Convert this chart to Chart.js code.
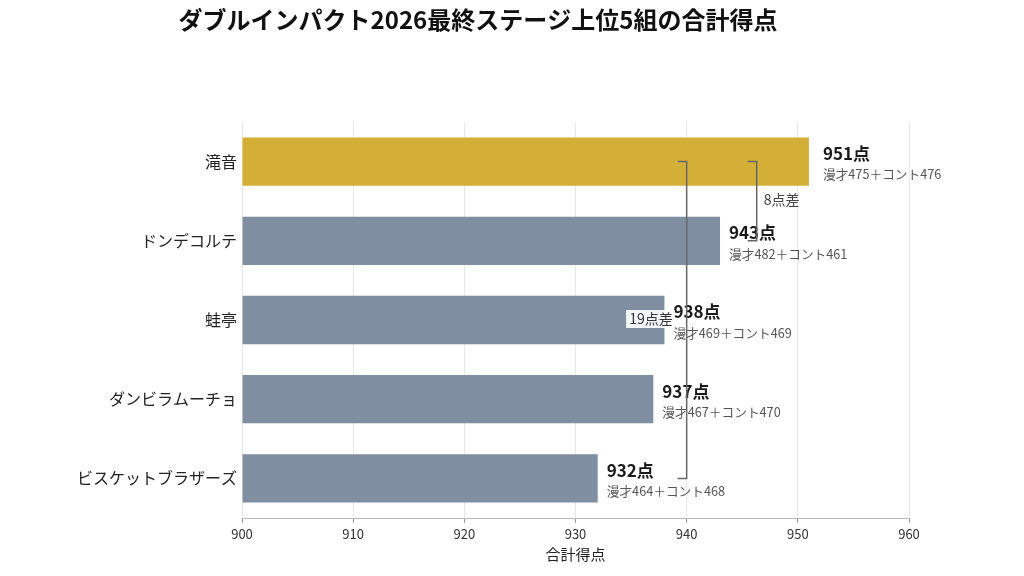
<!DOCTYPE html>
<html>
<head>
<meta charset="utf-8">
<script src="https://cdn.jsdelivr.net/npm/chart.js@4.4.1/dist/chart.umd.min.js"></script>
<style>
  html, body { margin: 0; padding: 0; background: #fff; }
  canvas { display: block; }
</style>
</head>
<body>
<canvas id="chart" width="1024" height="576"></canvas>
<script>
const teams = ['滝音', 'ドンデコルテ', '蛙亭', 'ダンビラムーチョ', 'ビスケットブラザーズ'];
const totals = [951, 943, 938, 937, 932];
const manzai = [475, 482, 469, 467, 464];
const conte = [476, 461, 469, 470, 468];
const xTicks = [900, 910, 920, 930, 940, 950, 960];

// difference brackets
const gapText = ['8点差', '19点差'];
const gapFrom = [0, 0];
const gapTo = [1, 4];
const gapAt = [946.3, 940];

const gold = '#d4af37';
const slate = '#7f8fa1';
const FONT = "'Noto Sans CJK JP', 'Noto Sans', sans-serif";

Chart.defaults.font.family = FONT;

const titlePlugin = {
  id: 'topTitle',
  afterDraw(chart) {
    const ctx = chart.ctx;
    ctx.save();
    ctx.font = `bold 24px ${FONT}`;
    ctx.fillStyle = '#111';
    ctx.textAlign = 'center';
    ctx.textBaseline = 'middle';
    ctx.fillText('ダブルインパクト2026最終ステージ上位5組の合計得点', 478, 20);
    ctx.restore();
  }
};

const annotations = {
  id: 'annotations',
  afterDatasetsDraw(chart) {
    const ctx = chart.ctx;
    const x = chart.scales.x;
    const y = chart.scales.y;
    ctx.save();

    // value labels
    totals.forEach((v, i) => {
      const px = x.getPixelForValue(v) + (i === 0 ? 14 : 9);
      const py = y.getPixelForValue(i);
      ctx.textAlign = 'left';
      ctx.textBaseline = 'middle';
      ctx.font = `bold 17px ${FONT}`;
      ctx.fillStyle = '#1a1a1a';
      ctx.fillText(v + '点', px, py - 8);
      ctx.font = `12.7px ${FONT}`;
      ctx.fillStyle = '#555';
      ctx.fillText('漫才' + manzai[i] + '＋コント' + conte[i], px, py + 13);
    });

    // brackets
    gapText.forEach((t, k) => {
      const lx = x.getPixelForValue(gapAt[k]);
      const y1 = y.getPixelForValue(gapFrom[k]);
      const y2 = y.getPixelForValue(gapTo[k]);
      ctx.strokeStyle = '#666';
      ctx.lineWidth = 1.5;
      ctx.beginPath();
      ctx.moveTo(lx - 9, y1);
      ctx.lineTo(lx, y1);
      ctx.lineTo(lx, y2);
      ctx.lineTo(lx - 9, y2);
      ctx.stroke();

      const my = (y1 + y2) / 2;
      ctx.font = `14px ${FONT}`;
      ctx.textBaseline = 'middle';
      if (k === 0) {
        ctx.textAlign = 'left';
        ctx.fillStyle = '#444';
        ctx.fillText(t, lx + 7, my - 2);
      } else {
        const w = ctx.measureText(t).width;
        const right = lx - 14;
        ctx.fillStyle = 'rgba(255,255,255,0.92)';
        ctx.fillRect(right - w - 3, my - 10, w + 5, 18);
        ctx.textAlign = 'right';
        ctx.fillStyle = '#333';
        ctx.fillText(t, right, my - 1);
      }
    });
    ctx.restore();
  }
};

new Chart(document.getElementById('chart'), {
  type: 'bar',
  data: {
    labels: teams,
    datasets: [{
      data: totals,
      base: 900,
      backgroundColor: totals.map((v, i) => (i === 0 ? gold : slate)),
      barPercentage: 0.61,
      categoryPercentage: 1
    }]
  },
  options: {
    indexAxis: 'y',
    responsive: false,
    animation: false,
    devicePixelRatio: 1,
    layout: { padding: { top: 122, right: 115, left: 0, bottom: 0 } },
    plugins: {
      legend: { display: false },
      tooltip: { enabled: false }
    },
    scales: {
      x: {
        min: 900,
        max: 960,
        afterFit(s) { s.height = 58; },
        afterBuildTicks(s) { s.ticks = xTicks.map(v => ({ value: v })); },
        ticks: { font: { size: 13 }, color: '#333', padding: 3 },
        grid: { color: '#e8e8e8', tickColor: '#999', tickLength: 5 },
        border: { color: '#bbb' },
        title: {
          display: true,
          text: '合計得点',
          font: { size: 15 },
          color: '#222',
          padding: { top: 0, bottom: 13 }
        }
      },
      y: {
        afterFit(s) { s.width = 242; },
        grid: { display: false, drawTicks: false, tickLength: 0 },
        border: { display: false },
        ticks: { font: { size: 16 }, color: '#222', padding: 5 }
      }
    }
  },
  plugins: [titlePlugin, annotations]
});
</script>
</body>
</html>
